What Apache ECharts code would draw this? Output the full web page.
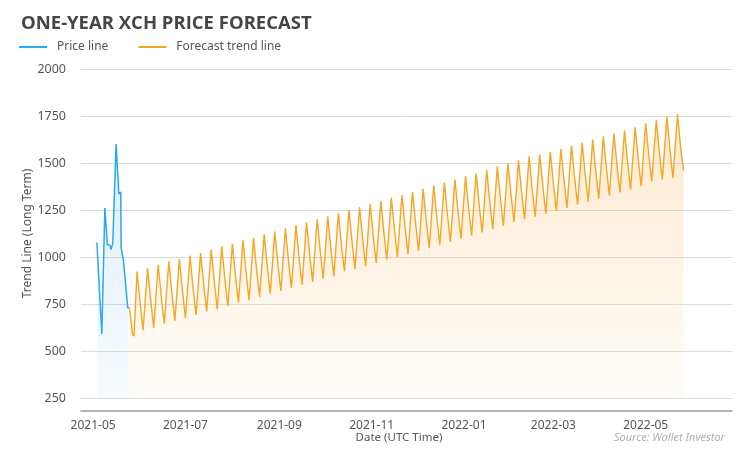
<!DOCTYPE html>
<html>
<head>
<meta charset="utf-8">
<script src="https://cdn.jsdelivr.net/npm/echarts@6/dist/echarts.min.js"></script>
<style>
html,body{margin:0;padding:0;background:#fff;}
#chart{width:750px;height:460px;}
</style>
</head>
<body>
<div id="chart"></div>
<script>
// ---- Data ----
const priceDates = ['2021-05-03 12:00','2021-05-06 18:00','2021-05-08 18:00','2021-05-10 10:00','2021-05-12 04:00','2021-05-12 20:00','2021-05-14 00:00','2021-05-16 04:00','2021-05-18 00:00','2021-05-19 06:00','2021-05-19 12:00','2021-05-21 00:00','2021-05-23 22:00','2021-05-25 00:00'];
const priceValues = [1078, 590, 1261, 1066, 1062, 1039, 1074, 1601, 1335, 1346, 1048, 986, 729, 732];

// forecast lead-in before the first weekly peak
const leadDates = ['2021-05-25','2021-05-26','2021-05-27','2021-05-28'];
const leadValues = [732, 725, 590, 579];

// weekly cycles: peak day, shoulder (day+2, day+3), trough (day+4, day+5)
const firstPeakDate = [2021, 4, 30];
const weekPeaks = [923,941,959,977,989,1007,1021,1039,1057,1071,1089,1102,1121,1135,1152,1168,1184,1201,1216,1232,1250,1264,1282,1298,1315,1330,1347,1363,1380,1396,1412,1429,1445,1461,1482,1500,1514,1535,1544,1560,1576,1593,1609,1625,1642,1658,1674,1690,1711,1729,1746,1761];
const weekShoulder1 = [762,773,792,808,823,834,855,873,887,900,923,932,953,968,985,1001,1017,1033,1046,1065,1083,1100,1113,1135,1148,1163,1180,1196,1213,1229,1245,1262,1278,1298,1315,1333,1347,1363,1386,1393,1409,1426,1442,1458,1475,1491,1507,1526,1544,1562,1574,1588];
const weekShoulder2 = [758,776,789,812,820,838,852,876,891,904,920,936,950,972,982,1005,1014,1037,1050,1062,1086,1097,1117,1131,1152,1160,1184,1193,1217,1226,1249,1259,1282,1295,1319,1330,1351,1360,1383,1397,1406,1430,1439,1462,1472,1495,1504,1530,1541,1566,1578,1593];
const weekTrough1 = [611,623,645,660,674,691,709,721,739,757,771,787,805,820,836,852,868,885,898,924,937,951,968,986,1000,1015,1032,1048,1065,1081,1097,1114,1130,1148,1165,1187,1201,1215,1229,1245,1261,1278,1294,1310,1327,1343,1359,1377,1403,1412,1419,1459];
const weekTrough2 = [604,618,640,655,668,686,703,716,733,752,766,782,800,814,831,846,863,879,893,918,932,946,962,980,995,1009,1027,1042,1060,1075,1092,1108,1125,1142,1160,1181,1196,1209,1224,1239,1256,1272,1289,1304,1322,1337,1354,1371,1397,1406,1414];

const xTickLabels = ['2021-05','2021-07','2021-09','2021-11','2022-01','2022-03','2022-05'];
const yTickValues = [250, 500, 750, 1000, 1250, 1500, 1750, 2000];

// ---- Build series ----
function parseDate(s){
  const m = s.match(/(\d+)-(\d+)-(\d+)(?:\s+(\d+):(\d+))?/);
  return new Date(+m[1], +m[2]-1, +m[3], m[4]?+m[4]:0, m[5]?+m[5]:0).getTime();
}
const priceData = priceDates.map((d,i)=>[parseDate(d), priceValues[i]]);
const forecastData = leadDates.map((d,i)=>[parseDate(d), leadValues[i]]);
for (let k = 0; k < weekPeaks.length; k++) {
  const day = (off)=> new Date(firstPeakDate[0], firstPeakDate[1], firstPeakDate[2] + 7*k + off).getTime();
  forecastData.push([day(0), weekPeaks[k]]);
  forecastData.push([day(2), weekShoulder1[k]]);
  forecastData.push([day(3), weekShoulder2[k]]);
  forecastData.push([day(4), weekTrough1[k]]);
  if (weekTrough2[k] !== undefined) forecastData.push([day(5), weekTrough2[k]]);
}
const xTickValues = xTickLabels.map(s=>parseDate(s+'-01'));

const chart = echarts.init(document.getElementById('chart'), null, {renderer:'canvas'});
const FONT = 'Noto Sans';
chart.setOption({
  animation: false,
  backgroundColor: '#fff',
  title: {
    text: 'ONE-YEAR XCH PRICE FORECAST',
    left: 16, top: 9,
    textStyle: {fontFamily: 'Open Sans', fontWeight: 'bold', fontSize: 18.5, color: '#454545'}
  },
  legend: {
    left: 14, top: 36,
    icon: 'rect', itemWidth: 28, itemHeight: 2, itemGap: 30,
    textStyle: {fontFamily: FONT, fontSize: 12, color: '#555', padding: [0,0,0,5]},
    data: ['Price line', 'Forecast trend line']
  },
  grid: {left: 81, right: 18, top: 69, bottom: 62, containLabel: false},
  xAxis: {
    type: 'value',
    min: parseDate('2021-04-23'),
    max: parseDate('2022-06-27'),
    offset: 13,
    name: 'Date (UTC Time)',
    nameLocation: 'middle',
    nameGap: 21,
    nameMoveOverlap: false,
    nameTextStyle: {fontFamily: FONT, fontSize: 11.5, color: '#555', padding: [0, 15, 0, 0]},
    axisLine: {show: true, lineStyle: {color: '#9a9a9a', width: 1.5}},
    axisTick: {show: false, customValues: xTickValues},
    splitLine: {show: false},
    axisLabel: {
      customValues: xTickValues,
      showMinLabel: true, showMaxLabel: true,
      fontFamily: FONT, fontSize: 12, color: '#555', margin: 9,
      formatter: function(v){
        const i = xTickValues.indexOf(v);
        if (i >= 0) return xTickLabels[i];
        const d = new Date(v);
        return d.getFullYear() + '-' + String(d.getMonth()+1).padStart(2,'0');
      }
    }
  },
  yAxis: {
    type: 'value',
    min: yTickValues[0], max: yTickValues[yTickValues.length-1], interval: 250,
    name: 'Trend Line (Long Term)',
    nameLocation: 'middle', nameGap: 47,
    nameMoveOverlap: false,
    nameTextStyle: {fontFamily: FONT, fontSize: 12, color: '#555'},
    axisLine: {show: false}, axisTick: {show: false},
    axisLabel: {fontFamily: FONT, fontSize: 12.5, color: '#555', margin: 15, formatter: function(v){ return String(v); }},
    splitLine: {lineStyle: {color: '#dcdcdc', width: 1}}
  },
  graphic: [{
    type: 'text', right: 25, top: 432,
    style: {text: 'Source: Wallet Investor', fontFamily: FONT, fontStyle: 'italic', fontSize: 11, fill: '#b0b0b0'}
  }],
  series: [
    {
      name: 'Price line', type: 'line', data: priceData, showSymbol: false, symbol: 'none',
      lineStyle: {color: '#2aa8f0', width: 1.5}, itemStyle: {color: '#2aa8f0'},
      areaStyle: {color: new echarts.graphic.LinearGradient(0,0,0,1,[{offset:0,color:'rgba(42,150,220,0.22)'},{offset:1,color:'rgba(42,150,220,0.05)'}])}
    },
    {
      name: 'Forecast trend line', type: 'line', data: forecastData, showSymbol: false, symbol: 'none',
      lineStyle: {color: '#f5a623', width: 1.4}, itemStyle: {color: '#f5a623'},
      areaStyle: {color: new echarts.graphic.LinearGradient(0,0,0,1,[{offset:0,color:'rgba(245,160,40,0.32)'},{offset:1,color:'rgba(245,160,40,0.03)'}])}
    }
  ]
});
</script>
</body>
</html>
